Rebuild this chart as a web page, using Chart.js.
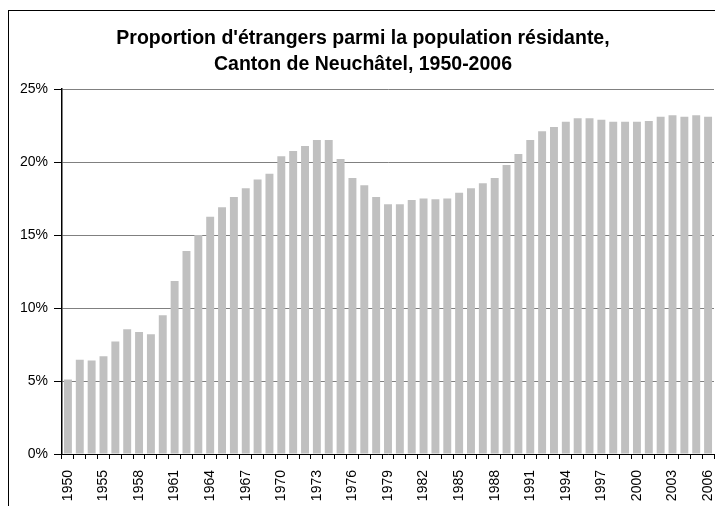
<!DOCTYPE html>
<html>
<head>
<meta charset="utf-8">
<title>Proportion d'étrangers, Canton de Neuchâtel</title>
<script src="https://cdn.jsdelivr.net/npm/chart.js@4.4.1/dist/chart.umd.min.js"></script>
<style>
  html, body { margin: 0; padding: 0; background: #fff; }
  #wrap { position: relative; width: 715px; height: 506px; overflow: hidden; }
  #frame { position: absolute; left: 8px; top: 10px; width: 800px; height: 600px; border: 1px solid #000; box-sizing: border-box; }
  #chart { position: absolute; left: 0; top: 0; }
  #title {
    position: absolute; left: 0; top: 25px; width: 726px;
    text-align: center; color: #000;
    font: bold 19.5px/25.7px 'Liberation Sans', Arial, sans-serif;
  }
</style>
</head>
<body>
<div id="wrap">
  <div id="frame"></div>
  <canvas id="chart" width="715" height="506"></canvas>
  <div id="title"></div>
</div>
<script>
// Data
const years = [
  '1950', '1953', '1954', '1955', '1956', '1957', '1958', '1959', '1960', '1961',
  '1962', '1963', '1964', '1965', '1966', '1967', '1968', '1969', '1970', '1971',
  '1972', '1973', '1974', '1975', '1976', '1977', '1978', '1979', '1980', '1981',
  '1982', '1983', '1984', '1985', '1986', '1987', '1988', '1989', '1990', '1991',
  '1992', '1993', '1994', '1995', '1996', '1997', '1998', '1999', '2000', '2001',
  '2002', '2003', '2004', '2005', '2006'
];
const shareForeigners = [
  5.1, 6.45, 6.4, 6.7, 7.7, 8.55, 8.35, 8.2, 9.5, 11.85,
  13.9, 15.0, 16.25, 16.9, 17.6, 18.2, 18.8, 19.2, 20.4, 20.75,
  21.1, 21.5, 21.5, 20.2, 18.9, 18.4, 17.6, 17.1, 17.1, 17.4,
  17.5, 17.45, 17.5, 17.9, 18.2, 18.55, 18.9, 19.8, 20.55, 21.5,
  22.1, 22.4, 22.75, 23.0, 23.0, 22.9, 22.75, 22.75, 22.75, 22.8,
  23.1, 23.2, 23.1, 23.2, 23.1
];
const yTicks = [0, 5, 10, 15, 20, 25];
const titleLines = ["Proportion d'étrangers parmi la population résidante,", 'Canton de Neuchâtel, 1950-2006'];

const FONT = "'Liberation Sans', Arial, sans-serif";

// Title as plain text above the canvas (centred a little right of the canvas middle, as in the original)
const titleEl = document.getElementById('title');
titleLines.forEach((line, i) => {
  if (i > 0) titleEl.appendChild(document.createElement('br'));
  titleEl.appendChild(document.createTextNode(line));
});

const ctx = document.getElementById('chart').getContext('2d');
new Chart(ctx, {
  type: 'bar',
  data: {
    labels: years,
    datasets: [{
      data: shareForeigners,
      backgroundColor: '#c0c0c0',
      borderWidth: 0,
      barPercentage: 0.67,
      categoryPercentage: 1
    }]
  },
  options: {
    responsive: false,
    devicePixelRatio: 1,
    animation: false,
    layout: { padding: { top: 89, left: 0, right: 1, bottom: 0 } },
    plugins: {
      legend: { display: false },
      tooltip: { enabled: false },
      title: { display: false }
    },
    scales: {
      x: {
        offset: true,
        grid: { display: true, drawOnChartArea: false, offset: true, tickLength: 5, tickColor: '#000' },
        border: { color: '#000', width: 1 },
        ticks: {
          autoSkip: false,
          minRotation: 90,
          maxRotation: 90,
          padding: 11,
          color: '#000',
          font: { family: FONT, size: 14 },
          callback: function (value, index) {
            return index % 3 === 0 ? years[index] : '';
          }
        },
        afterFit: function (scale) {
          scale.height = 52;
          scale.paddingLeft = 0;
          scale.paddingRight = 0;
        }
      },
      y: {
        min: yTicks[0],
        max: yTicks[yTicks.length - 1],
        grid: { color: '#808080', lineWidth: 1, tickLength: 8, tickColor: '#000' },
        border: { color: '#000', width: 1.5 },
        ticks: {
          stepSize: 5,
          padding: 6,
          color: '#000',
          font: { family: FONT, size: 14 },
          callback: function (value) { return value + '%'; }
        },
        afterFit: function (scale) {
          scale.width = 62;
          scale.paddingTop = 0;
          scale.paddingBottom = 0;
        }
      }
    }
  }
});
</script>
</body>
</html>
